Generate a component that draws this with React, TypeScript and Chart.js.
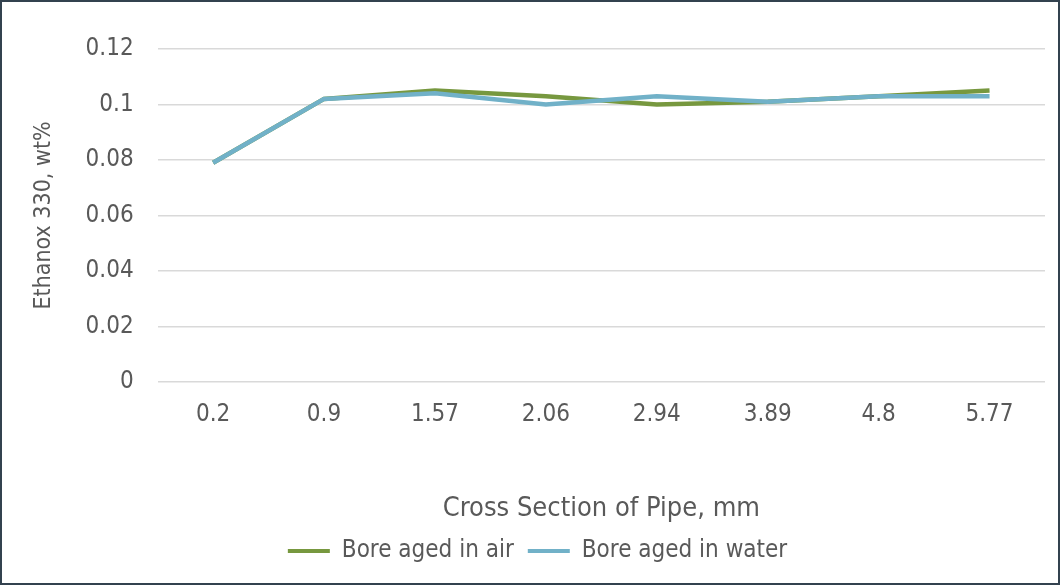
import React, { useEffect, useRef } from "react";
import { Chart, registerables } from "chart.js";

Chart.register(...registerables);

const categories = ["0.2", "0.9", "1.57", "2.06", "2.94", "3.89", "4.8", "5.77"];
const airValues = [0.079, 0.102, 0.105, 0.103, 0.1, 0.101, 0.103, 0.105];
const waterValues = [0.079, 0.102, 0.104, 0.1, 0.103, 0.101, 0.103, 0.103];
const seriesNames = ["Bore aged in air", "Bore aged in water"];
const seriesColors = ["#77983F", "#71B1C8"];
const xTitle = "Cross Section of Pipe, mm";
const yTitle = "Ethanox 330, wt%";

const FONT = "'DejaVu Sans Condensed', 'DejaVu Sans', sans-serif";
const TEXT = "#595959";

export default function App() {
  const ref = useRef<HTMLCanvasElement | null>(null);

  useEffect(() => {
    document.body.style.margin = "0";
    const canvas = ref.current;
    if (!canvas) return;
    const chart = new Chart(canvas, {
      type: "line",
      data: {
        labels: categories,
        datasets: [
          {
            label: seriesNames[0],
            data: airValues,
            borderColor: seriesColors[0],
            backgroundColor: seriesColors[0],
            borderWidth: 4.5,
            pointRadius: 0,
            tension: 0,
            order: 1,
          },
          {
            label: seriesNames[1],
            data: waterValues,
            borderColor: seriesColors[1],
            backgroundColor: seriesColors[1],
            borderWidth: 4.5,
            pointRadius: 0,
            tension: 0,
            order: 0,
          },
        ],
      },
      options: {
        responsive: false,
        animation: false,
        maintainAspectRatio: false,
        layout: { padding: { left: 28, right: 13, top: 47, bottom: 10 } },
        plugins: {
          tooltip: { enabled: false },
          legend: {
            position: "bottom",
            labels: {
              font: { family: FONT, size: 24 },
              color: TEXT,
              boxWidth: 42,
              boxHeight: 4,
              padding: 14,
              generateLabels: (c: any) =>
                c.data.datasets.map((ds: any, i: number) => ({
                  text: ds.label,
                  fillStyle: ds.borderColor,
                  strokeStyle: ds.borderColor,
                  lineWidth: 0,
                  fontColor: TEXT,
                  hidden: false,
                  datasetIndex: i,
                })),
            },
          },
        },
        scales: {
          x: {
            offset: true,
            grid: { display: false },
            border: { display: false },
            ticks: {
              color: TEXT,
              font: { family: FONT, size: 24 },
              padding: 11,
              maxRotation: 0,
            },
            title: {
              display: true,
              text: xTitle,
              color: TEXT,
              font: { family: FONT, size: 27 },
              padding: { top: 52, bottom: 0 },
            },
          },
          y: {
            min: 0,
            max: 0.12,
            grid: { color: "#D9D9D9", lineWidth: 1.5, drawTicks: false },
            border: { display: false },
            ticks: {
              stepSize: 0.02,
              color: TEXT,
              font: { family: FONT, size: 24 },
              padding: 24,
              callback: (v: any) => String(Math.round(Number(v) * 100) / 100),
            },
            title: {
              display: true,
              text: yTitle,
              color: TEXT,
              font: { family: FONT, size: 23 },
              padding: { top: 0, bottom: 4 },
            },
          },
        },
      },
    });
    return () => chart.destroy();
  }, []);

  return (
    <div
      style={{
        position: "absolute",
        left: 0,
        top: 0,
        width: 1060,
        height: 585,
        boxSizing: "border-box",
        border: "2px solid #33424F",
        background: "#fff",
      }}
    >
      <canvas ref={ref} width={1056} height={581} style={{ display: "block" }} />
    </div>
  );
}
